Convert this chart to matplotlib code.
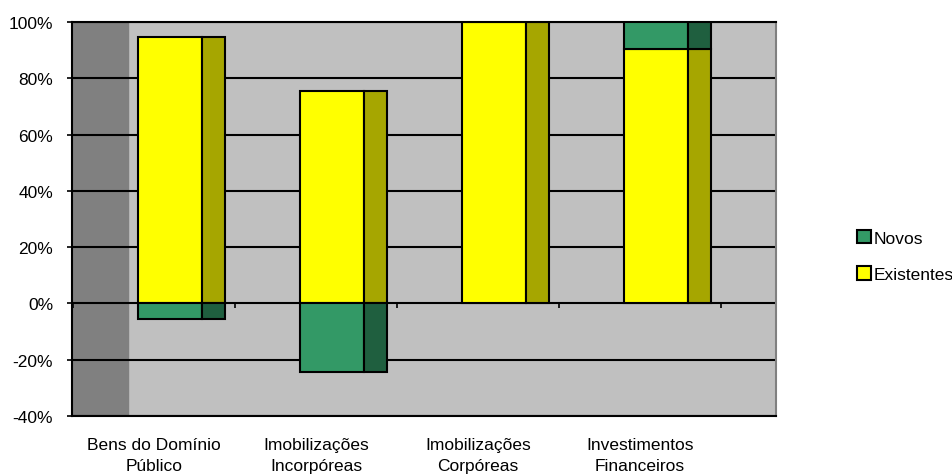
import matplotlib.pyplot as plt
from matplotlib import font_manager
from matplotlib.patches import Patch
import numpy as np

categorias = ['Bens do Domínio\nPúblico', 'Imobilizações\nIncorpóreas',
              'Imobilizações\nCorpóreas', 'Investimentos\nFinanceiros']
existentes = [94.7, 75.5, 100.0, 90.4]
novos = [-5.5, -24.3, 0.0, 9.6]
y_ticks = [-40, -20, 0, 20, 40, 60, 80, 100]

# fonte estreita, se existir
nomes = [f.name for f in font_manager.fontManager.ttflist]
if 'Liberation Sans Narrow' in nomes:
    plt.rcParams['font.family'] = ['Liberation Sans Narrow', 'DejaVu Sans']
else:
    plt.rcParams['font.family'] = ['Liberation Sans', 'DejaVu Sans']
plt.rcParams['font.size'] = 12.5

W, H = 952, 477
fig = plt.figure(figsize=(W / 100, H / 100), dpi=100)
ax = fig.add_axes([72 / W, (H - 417) / H, (776 - 72) / W, (417 - 23) / H])
ax.set_facecolor('#C0C0C0')

x = np.arange(len(categorias))
frente = 0.395
lado = 0.142
cx = x + 0.099

# parede lateral escura
ax.axvspan(-0.506, -0.16, color='#808080', zorder=0)
# grelha
for v in y_ticks:
    ax.axhline(v, color='black', lw=1.5, zorder=1)

ex = np.array(existentes)
nv = np.array(novos)
base_nv = np.where(nv >= 0, ex, 0)

# faces da frente
ax.bar(cx, ex, frente, color='#FFFF00', edgecolor='black', lw=1.5, zorder=3)
ax.bar(cx, nv, frente, bottom=base_nv, color='#339966', edgecolor='black', lw=1.5, zorder=3)
# faces laterais
lx = cx + frente / 2 + lado / 2
ax.bar(lx, ex, lado, color='#A6A600', edgecolor='black', lw=1.5, zorder=3)
ax.bar(lx, nv, lado, bottom=base_nv, color='#1F5F3F', edgecolor='black', lw=1.5, zorder=3)

# marcas das categorias no eixo 0
limites = np.arange(len(categorias) + 1) - 0.5
ax.vlines(limites, -1.6, 0, color='black', lw=1.2, zorder=2)

ax.set_xlim(-0.506, 3.84)
ax.set_ylim(-40, 100)
ax.set_yticks(y_ticks)
ax.set_yticklabels([f'{v}%' for v in y_ticks])
ax.set_xticks(x)
ax.set_xticklabels(categorias, linespacing=1.55)
ax.tick_params(axis='x', length=0, pad=15)
ax.tick_params(axis='y', length=3.6, width=1.2, pad=10)

for s in ['left', 'bottom', 'top']:
    ax.spines[s].set_linewidth(1.5)
    ax.spines[s].set_color('black')
ax.spines['right'].set_color('#808080')
ax.spines['right'].set_linewidth(1.5)

handles = [Patch(facecolor='#339966', edgecolor='black', lw=1.5, label='Novos'),
           Patch(facecolor='#FFFF00', edgecolor='black', lw=1.5, label='Existentes')]
fig.legend(handles=handles, loc='center left', bbox_to_anchor=(850 / W, 1 - 257 / H),
           frameon=False, handlelength=0.8, handleheight=0.8, handletextpad=0.15,
           labelspacing=1.2, borderaxespad=0)

plt.savefig('out.png', dpi=100)
